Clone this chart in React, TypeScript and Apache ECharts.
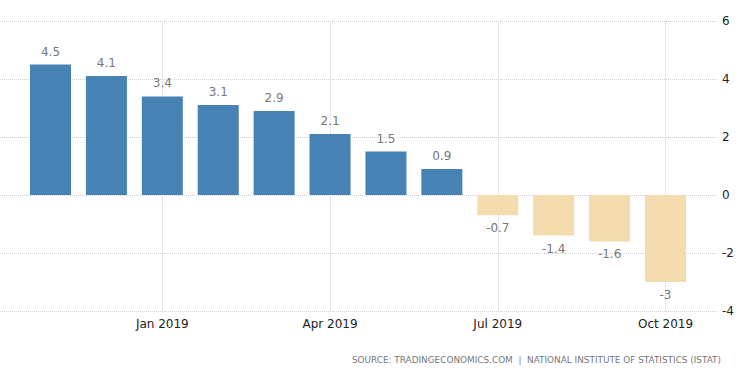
import React, { useEffect, useRef } from "react";
import * as echarts from "echarts";

const categories = ["Nov 2018", "Dec 2018", "Jan 2019", "Feb 2019", "Mar 2019", "Apr 2019", "May 2019", "Jun 2019", "Jul 2019", "Aug 2019", "Sep 2019", "Oct 2019"];
const values = [4.5, 4.1, 3.4, 3.1, 2.9, 2.1, 1.5, 0.9, -0.7, -1.4, -1.6, -3];
const shownLabels = ["Jan 2019", "Apr 2019", "Jul 2019", "Oct 2019"];
const sourceText = "SOURCE: TRADINGECONOMICS.COM  |  NATIONAL INSTITUTE OF STATISTICS (ISTAT)";

const POS = "#4682b4";
const NEG = "#f3dcae";
const GRID = "#cfcfcf";

export default function App() {
  const ref = useRef<HTMLDivElement>(null);
  useEffect(() => {
    if (!ref.current) return;
    const chart = echarts.init(ref.current, undefined, { renderer: "svg" });
    const isShown = (i: number) => shownLabels.indexOf(categories[i]) >= 0;
    chart.setOption({
      animation: false,
      textStyle: { fontFamily: "DejaVu Sans" },
      title: {
        text: sourceText,
        right: 24,
        top: 350,
        textStyle: { fontSize: 8.9, color: "#777", fontWeight: "normal", fontFamily: "DejaVu Sans" },
      },
      grid: [
        { left: 0, right: 33, top: 21, bottom: 62 },
        { left: 50.5, right: 84.5, top: 21, bottom: 62 },
      ],
      xAxis: [
        { type: "value", gridIndex: 0, min: 0, max: 1, show: false },
        {
          type: "category",
          gridIndex: 1,
          data: categories,
          boundaryGap: false,
          axisLine: { show: false },
          axisTick: { show: false },
          axisLabel: {
            interval: (i: number) => isShown(i),
            color: "#222",
            fontSize: 12,
            margin: 7,
          },
          splitLine: {
            show: true,
            interval: (i: number) => isShown(i),
            lineStyle: { color: GRID, type: "dotted", width: 1 },
          },
        },
      ],
      yAxis: [
        {
          type: "value",
          gridIndex: 0,
          position: "right",
          min: -4,
          max: 6,
          interval: 2,
          axisLine: { show: false },
          axisTick: { show: false },
          axisLabel: { color: "#222", fontSize: 12, margin: 5 },
          splitLine: { show: true, lineStyle: { color: GRID, type: "dotted", width: 1 } },
        },
        { type: "value", gridIndex: 1, min: -4, max: 6, interval: 2, show: false, splitLine: { show: false } },
      ],
      series: [
        {
          type: "bar",
          xAxisIndex: 1,
          yAxisIndex: 1,
          clip: false,
          barWidth: 41,
          data: values.map((v) => ({
            value: v,
            itemStyle: { color: v >= 0 ? POS : NEG },
            label: { position: v >= 0 ? "top" : "bottom" },
          })),
          label: {
            show: true,
            color: "#777",
            fontSize: 12,
            distance: 7,
            fontFamily: "DejaVu Sans",
          },
        },
      ],
    });
    return () => chart.dispose();
  }, []);
  return (
    <div
      ref={ref}
      style={{ position: "absolute", left: 0, top: 0, width: 750, height: 373, background: "#fff" }}
    />
  );
}
